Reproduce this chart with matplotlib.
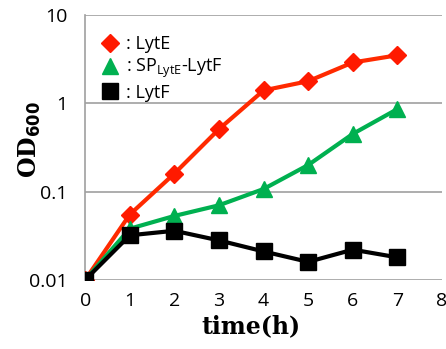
import matplotlib
matplotlib.use('Agg')
import matplotlib.pyplot as plt
from matplotlib.ticker import FixedLocator, NullLocator

# Data
time_h = [0, 1, 2, 3, 4, 5, 6, 7]
lyte = [0.01, 0.055, 0.16, 0.51, 1.4, 1.78, 2.9, 3.5]
sp_lyte_lytf = [0.01, 0.038, 0.053, 0.07, 0.107, 0.2, 0.45, 0.86]
lytf = [0.01, 0.032, 0.036, 0.028, 0.021, 0.016, 0.022, 0.018]

y_ticks = [0.01, 0.1, 1, 10]
y_tick_labels = ['0.01', '0.1', '1', '10']

fig = plt.figure(figsize=(4.46, 3.49), dpi=100)
ax = fig.add_axes([0.191, 0.198, 0.80, 0.759])

ax.plot(time_h, lyte, color='#ff2a00', lw=3, marker='D', ms=9,
        mfc='#ff1a00', mec='#ff1a00', label=': LytE', zorder=3)
ax.plot(time_h, sp_lyte_lytf, color='#00b050', lw=3, marker='^', ms=11,
        mfc='#00b050', mec='#00b050', label=r': SP$_{\mathregular{LytE}}$-LytF', zorder=3)
ax.plot(time_h, lytf, color='black', lw=3, marker='s', ms=11,
        mfc='black', mec='black', label=': LytF', zorder=4)

ax.set_yscale('log')
ax.set_ylim(0.01, 10)
ax.set_xlim(0, 8)
ax.yaxis.set_major_locator(FixedLocator(y_ticks))
ax.yaxis.set_minor_locator(NullLocator())
ax.set_yticklabels(y_tick_labels)
ax.set_xticks(range(0, 9))

ax.grid(axis='y', color='#a0a0a0', lw=1.2)
ax.set_axisbelow(True)
for s in ['top', 'right', 'bottom']:
    ax.spines[s].set_visible(False)
ax.spines['left'].set_color('#a0a0a0')
ax.spines['left'].set_linewidth(1.2)
ax.tick_params(length=0, labelsize=14)
ax.tick_params(axis='x', pad=9)
ax.tick_params(axis='y', pad=13)
for lab in ax.get_xticklabels() + ax.get_yticklabels():
    lab.set_fontfamily('Open Sans')

ax.set_xlabel('time(h)', fontsize=17, fontweight='bold', family='DejaVu Serif')
ax.set_ylabel(r'OD$_{\mathbf{600}}$', fontsize=17, fontweight='bold', family='DejaVu Serif')
ax.xaxis.set_label_coords(0.465, -0.128)
ax.yaxis.set_label_coords(-0.118, 0.53)

leg = ax.legend(loc='upper left', bbox_to_anchor=(0.0, 0.985), frameon=False,
                handlelength=1.0, handletextpad=0.35, labelspacing=0.2,
                prop={'family': 'Open Sans', 'size': 13})
for h in leg.legend_handles:
    h.set_linestyle('none')

fig.savefig('out.png', dpi=100)
